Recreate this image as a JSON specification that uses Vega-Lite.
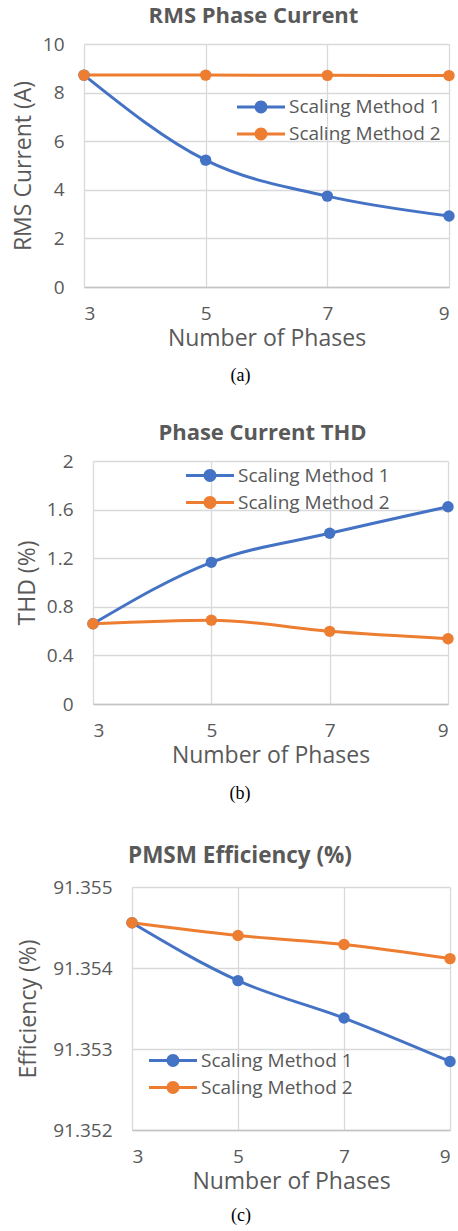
{
  "$schema": "https://vega.github.io/schema/vega-lite/v6.json",
  "background": "white",
  "padding": {"left": 0, "top": 5, "right": 0, "bottom": 0},
  "spacing": 37,
  "resolve": {"scale": {"color": "independent"}, "legend": {"color": "independent"}},
  "datasets": {
    "rms": [
      {"phases": 3, "method": "Scaling Method 1", "value": 8.72},
      {"phases": 5, "method": "Scaling Method 1", "value": 5.22},
      {"phases": 7, "method": "Scaling Method 1", "value": 3.74},
      {"phases": 9, "method": "Scaling Method 1", "value": 2.92},
      {"phases": 3, "method": "Scaling Method 2", "value": 8.72},
      {"phases": 5, "method": "Scaling Method 2", "value": 8.72},
      {"phases": 7, "method": "Scaling Method 2", "value": 8.71},
      {"phases": 9, "method": "Scaling Method 2", "value": 8.70}
    ],
    "thd": [
      {"phases": 3, "method": "Scaling Method 1", "value": 0.66},
      {"phases": 5, "method": "Scaling Method 1", "value": 1.166},
      {"phases": 7, "method": "Scaling Method 1", "value": 1.405},
      {"phases": 9, "method": "Scaling Method 1", "value": 1.624},
      {"phases": 3, "method": "Scaling Method 2", "value": 0.66},
      {"phases": 5, "method": "Scaling Method 2", "value": 0.69},
      {"phases": 7, "method": "Scaling Method 2", "value": 0.598},
      {"phases": 9, "method": "Scaling Method 2", "value": 0.537}
    ],
    "eff": [
      {"phases": 3, "method": "Scaling Method 1", "value": 91.354558},
      {"phases": 5, "method": "Scaling Method 1", "value": 91.353844},
      {"phases": 7, "method": "Scaling Method 1", "value": 91.353382},
      {"phases": 9, "method": "Scaling Method 1", "value": 91.352846},
      {"phases": 3, "method": "Scaling Method 2", "value": 91.354558},
      {"phases": 5, "method": "Scaling Method 2", "value": 91.354401},
      {"phases": 7, "method": "Scaling Method 2", "value": 91.35429},
      {"phases": 9, "method": "Scaling Method 2", "value": 91.354116}
    ],
    "blank": []
  },
  "config": {
    "view": {"stroke": null},
    "axis": {
      "labelFont": "Open Sans", "labelFontSize": 19, "labelColor": "#595959",
      "titleFont": "Open Sans", "titleFontSize": 23, "titleFontWeight": "normal", "titleColor": "#595959",
      "gridColor": "#d9d9d9", "gridWidth": 1.3, "ticks": false
    },
    "axisX": {"domainColor": "#c4c4c4", "domainWidth": 1.5, "labelPadding": 17, "titlePadding": 4},
    "axisY": {"domain": false, "labelPadding": 20, "titlePadding": 7},
    "legend": {
      "labelFont": "Open Sans", "labelFontSize": 19, "labelColor": "#595959",
      "padding": 0, "rowPadding": 0, "labelOffset": 4, "clipHeight": 27,
      "symbolType": "M-1,-0.0625H1V0.0625H-1Z M0.27,0A0.27,0.27,0,1,1,-0.27,0A0.27,0.27,0,1,1,0.27,0Z",
      "symbolSize": 2304, "symbolStrokeWidth": 0, "symbolOpacity": 1
    },
    "line": {"strokeWidth": 3, "interpolate": "monotone"},
    "point": {"filled": true, "size": 130, "opacity": 1}
  },
  "vconcat": [
    {
      "title": {"text": "(a)", "orient": "bottom", "anchor": "middle", "frame": "bounds", "dx": 13, "font": "Liberation Serif", "fontSize": 18, "fontWeight": "normal", "color": "#000000", "offset": 17},
      "spacing": 0,
      "resolve": {"scale": {"color": "independent"}, "legend": {"color": "independent"}},
      "hconcat": [
        {"width": 12, "height": 243, "data": {"name": "blank"}, "mark": "rule", "encoding": {}},
        {
          "width": 365, "height": 243,
          "data": {"name": "rms"},
          "title": {"text": "RMS Phase Current", "anchor": "middle", "frame": "group", "dx": -13, "font": "Open Sans", "fontSize": 22, "fontWeight": "bold", "color": "#595959", "offset": 7},
          "encoding": {
            "x": {"field": "phases", "type": "quantitative", "scale": {"domain": [3, 9], "nice": false, "zero": false}, "axis": {"values": [3, 5, 7, 9], "title": "Number of Phases"}},
            "y": {"field": "value", "type": "quantitative", "scale": {"domain": [0, 10], "nice": false}, "axis": {"values": [0, 2, 4, 6, 8, 10], "title": "RMS Current (A)"}},
            "color": {"field": "method", "type": "nominal", "scale": {"domain": ["Scaling Method 1", "Scaling Method 2"], "range": ["#4472C4", "#ED7D31"]},
              "legend": {"title": null, "orient": "none", "legendX": 153, "legendY": 49.5,
                "encode": {"symbols": {"update": {"fill": [{"test": "datum.value === 'Scaling Method 1'", "value": "#4472C4"}, {"value": "#ED7D31"}], "stroke": {"value": "transparent"}, "opacity": {"value": 1}}}}}}
          },
          "layer": [
            {"mark": "line"},
            {"mark": "point"}
          ]
        }
      ]
    },
    {
      "spacing": 41,
      "resolve": {"scale": {"color": "independent"}, "legend": {"color": "independent"}},
      "vconcat": [
        {
          "title": {"text": "(b)", "orient": "bottom", "anchor": "middle", "frame": "bounds", "dx": 13, "font": "Liberation Serif", "fontSize": 18, "fontWeight": "normal", "color": "#000000", "offset": 18},
          "spacing": 0,
          "resolve": {"scale": {"color": "independent"}, "legend": {"color": "independent"}},
          "hconcat": [
            {"width": 16, "height": 243, "data": {"name": "blank"}, "mark": "rule", "encoding": {}},
            {
              "width": 355, "height": 243,
              "data": {"name": "thd"},
              "title": {"text": "Phase Current THD", "anchor": "middle", "frame": "group", "dx": -8, "font": "Open Sans", "fontSize": 22, "fontWeight": "bold", "color": "#595959", "offset": 7},
              "encoding": {
                "x": {"field": "phases", "type": "quantitative", "scale": {"domain": [3, 9], "nice": false, "zero": false}, "axis": {"values": [3, 5, 7, 9], "title": "Number of Phases"}},
                "y": {"field": "value", "type": "quantitative", "scale": {"domain": [0, 2], "nice": false}, "axis": {"values": [0, 0.4, 0.8, 1.2, 1.6, 2], "format": ".1~f", "title": "THD (%)"}},
                "color": {"field": "method", "type": "nominal", "scale": {"domain": ["Scaling Method 1", "Scaling Method 2"], "range": ["#4472C4", "#ED7D31"]},
                  "legend": {"title": null, "orient": "none", "legendX": 93, "legendY": 1,
                    "encode": {"symbols": {"update": {"fill": [{"test": "datum.value === 'Scaling Method 1'", "value": "#4472C4"}, {"value": "#ED7D31"}], "stroke": {"value": "transparent"}, "opacity": {"value": 1}}}}}}
              },
              "layer": [
                {"mark": "line"},
                {"mark": "point"}
              ]
            }
          ]
        },
        {
          "title": {"text": "(c)", "orient": "bottom", "anchor": "middle", "frame": "bounds", "dx": 13, "font": "Liberation Serif", "fontSize": 18, "fontWeight": "normal", "color": "#000000", "offset": 14},
          "spacing": 0,
          "resolve": {"scale": {"color": "independent"}, "legend": {"color": "independent"}},
          "hconcat": [
            {"width": 17, "height": 243, "data": {"name": "blank"}, "mark": "rule", "encoding": {}},
            {
              "width": 318, "height": 243,
              "data": {"name": "eff"},
              "title": {"text": "PMSM Efficiency (%)", "anchor": "middle", "frame": "group", "dx": -51, "font": "Open Sans", "fontSize": 22.5, "fontWeight": "bold", "color": "#595959", "offset": 11},
              "encoding": {
                "x": {"field": "phases", "type": "quantitative", "scale": {"domain": [3, 9], "nice": false, "zero": false}, "axis": {"values": [3, 5, 7, 9], "title": "Number of Phases"}},
                "y": {"field": "value", "type": "quantitative", "scale": {"domain": [91.352, 91.355], "nice": false, "zero": false}, "axis": {"values": [91.352, 91.353, 91.354, 91.355], "format": ".3f", "title": "Efficiency (%)", "titlePadding": 12}},
                "color": {"field": "method", "type": "nominal", "scale": {"domain": ["Scaling Method 1", "Scaling Method 2"], "range": ["#4472C4", "#ED7D31"]},
                  "legend": {"title": null, "orient": "none", "legendX": 17, "legendY": 160,
                    "encode": {"symbols": {"update": {"fill": [{"test": "datum.value === 'Scaling Method 1'", "value": "#4472C4"}, {"value": "#ED7D31"}], "stroke": {"value": "transparent"}, "opacity": {"value": 1}}}}}}
              },
              "layer": [
                {"mark": "line"},
                {"mark": "point"}
              ]
            }
          ]
        }
      ]
    }
  ]
}
